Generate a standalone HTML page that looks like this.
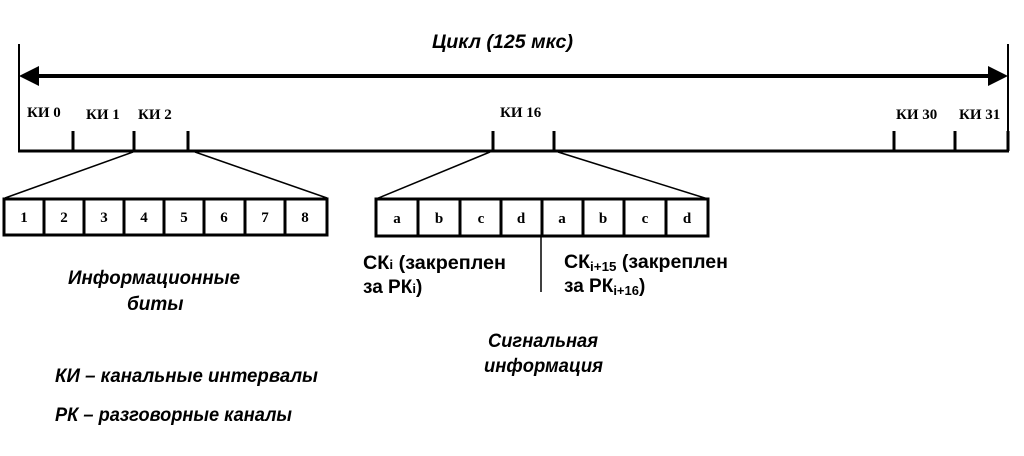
<!DOCTYPE html>
<html><head><meta charset="utf-8"><style>
html,body{margin:0;padding:0;background:#fff;}
svg{display:block}
.s{font-family:"Liberation Serif",serif;font-weight:bold;font-size:15px;}
.n{font-family:"Liberation Sans Narrow","Liberation Sans",sans-serif;font-weight:bold;font-size:19px;}
.i{font-family:"Liberation Sans Narrow","Liberation Sans",sans-serif;font-weight:bold;font-style:italic;font-size:19px;}
</style></head><body>
<svg width="1024" height="456" viewBox="0 0 1024 456" xmlns="http://www.w3.org/2000/svg">
<g stroke="#000" fill="none">
<line x1="19" y1="44" x2="19" y2="152" stroke-width="2"/>
<line x1="1008" y1="44" x2="1008" y2="152" stroke-width="2"/>
<line x1="35" y1="76" x2="990" y2="76" stroke-width="4"/>
<line x1="18" y1="151" x2="1009" y2="151" stroke-width="3"/>
<g stroke-width="3">
<line x1="73" y1="131" x2="73" y2="151"/><line x1="134" y1="131" x2="134" y2="151"/><line x1="188" y1="131" x2="188" y2="151"/>
<line x1="493" y1="131" x2="493" y2="151"/><line x1="554" y1="131" x2="554" y2="151"/>
<line x1="894" y1="131" x2="894" y2="151"/><line x1="955" y1="131" x2="955" y2="151"/><line x1="1008" y1="131" x2="1008" y2="151"/>
</g>
<g stroke-width="1.5">
<line x1="133" y1="152" x2="5" y2="198"/><line x1="195" y1="152" x2="327" y2="198"/>
<line x1="490" y1="152" x2="376" y2="199"/><line x1="558" y1="152" x2="708" y2="199"/>
<line x1="541" y1="236" x2="541" y2="292"/>
</g>
<rect x="4" y="199" width="323" height="36" stroke-width="3"/>
<rect x="376" y="199" width="332" height="37" stroke-width="3"/>
<g stroke-width="3">
<line x1="44" y1="199" x2="44" y2="235"/><line x1="84" y1="199" x2="84" y2="235"/><line x1="124" y1="199" x2="124" y2="235"/><line x1="164" y1="199" x2="164" y2="235"/><line x1="204" y1="199" x2="204" y2="235"/><line x1="245" y1="199" x2="245" y2="235"/><line x1="285" y1="199" x2="285" y2="235"/>
<line x1="418" y1="199" x2="418" y2="236"/><line x1="460" y1="199" x2="460" y2="236"/><line x1="501" y1="199" x2="501" y2="236"/><line x1="542" y1="199" x2="542" y2="236"/><line x1="583" y1="199" x2="583" y2="236"/><line x1="624" y1="199" x2="624" y2="236"/><line x1="666" y1="199" x2="666" y2="236"/>
</g>
</g>
<polygon points="19,76 39,66 39,86" fill="#000"/>
<polygon points="1008,76 988,66 988,86" fill="#000"/>
<text class="i" x="432" y="48" textLength="141" lengthAdjust="spacingAndGlyphs">Цикл (125 мкс)</text>
<g class="s">
<text x="27" y="117">КИ 0</text><text x="86" y="119">КИ 1</text><text x="138" y="119">КИ 2</text>
<text x="500" y="117">КИ 16</text><text x="896" y="119">КИ 30</text><text x="959" y="119">КИ 31</text>
</g>
<g class="s" text-anchor="middle">
<text x="24" y="222">1</text><text x="64" y="222">2</text><text x="104" y="222">3</text><text x="144" y="222">4</text><text x="184" y="222">5</text><text x="224" y="222">6</text><text x="265" y="222">7</text><text x="305" y="222">8</text>
<text x="397" y="223">a</text><text x="439" y="223">b</text><text x="481" y="223">c</text><text x="521" y="223">d</text><text x="562" y="223">a</text><text x="603" y="223">b</text><text x="645" y="223">c</text><text x="687" y="223">d</text>
</g>
<text class="n" x="363" y="269" textLength="143" lengthAdjust="spacingAndGlyphs">СК<tspan font-size="13">i</tspan> (закреплен</text>
<text class="n" x="363" y="293">за РК<tspan font-size="13">i</tspan>)</text>
<text class="n" x="564" y="268" textLength="164" lengthAdjust="spacingAndGlyphs">СК<tspan font-size="13" dy="3">i+15</tspan><tspan dy="-3"> (закреплен</tspan></text>
<text class="n" x="564" y="292">за РК<tspan font-size="13" dy="3">i+16</tspan><tspan dy="-3">)</tspan></text>
<text class="i" x="68" y="284" textLength="172" lengthAdjust="spacingAndGlyphs">Информационные</text>
<text class="i" x="127" y="310">биты</text>
<text class="i" x="488" y="347" textLength="110" lengthAdjust="spacingAndGlyphs">Сигнальная</text>
<text class="i" x="484" y="372" textLength="119" lengthAdjust="spacingAndGlyphs">информация</text>
<text class="i" x="55" y="382" textLength="263" lengthAdjust="spacingAndGlyphs">КИ – канальные интервалы</text>
<text class="i" x="55" y="421" textLength="237" lengthAdjust="spacingAndGlyphs">РК – разговорные каналы</text>
</svg>
</body></html>
